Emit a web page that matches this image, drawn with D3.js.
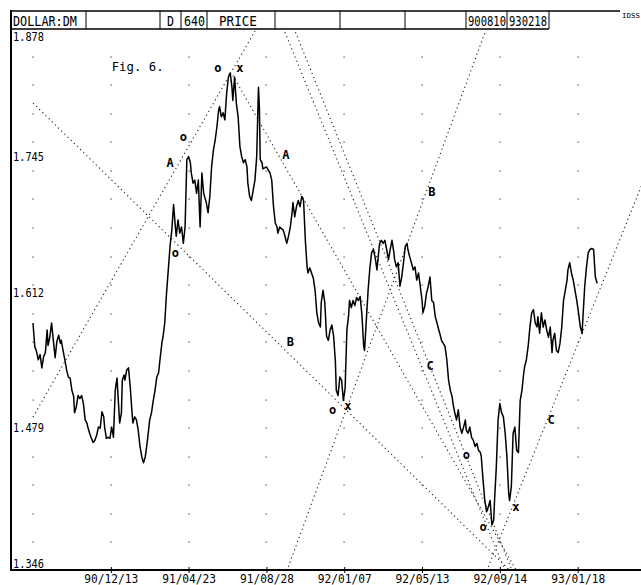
<!DOCTYPE html>
<html><head><meta charset="utf-8">
<script src="https://cdn.jsdelivr.net/npm/d3@7/dist/d3.min.js"></script>
<style>
html,body{margin:0;padding:0;background:#fff;}
svg{display:block;}
text{font-family:"DejaVu Sans Mono","Liberation Mono",monospace;fill:#000;}
</style></head>
<body>
<svg id="chart" width="641" height="585"></svg>
<script>
// ---- data ----
const barIndex = [0,2,4,6,8,10,12,14,16,17,19,21,23,25,27,29,31,32,34,36,38,40,42,44,46,47,49,51,53,55,57,59,61,62,64,66,68,70,72,74,76,78,80,81,83,85,87,89,91,93,95,96,98,100,101,103,104,106,108,110,112,113,115,117,119,121,123,125,127,129,132,134,136,138,140,142,144,146,147,149,151,153,155,157,159,161,162,164,166,168,170,172,174,176,178,179,181,183,185,187,189,191,193,194,196,198,200,202,204,206,208,210,211,213,215,217,219,221,223,225,226,228,230,232,234,236,238,240,242,243,245,247,249,251,253,255,256,257,259,260,264,268,270,272,274,276,277,279,283,285,287,289,291,293,294,296,298,300,302,304,306,308,310,311,313,315,317,319,321,323,325,326,328,330,332,334,336,338,340,342,343,345,347,349,351,353,355,357,358,360,362,364,366,368,370,372,374,375,377,379,381,383,385,387,389,391,392,394,396,398,400,402,404,406,408,409,411,413,415,417,419,421,423,424,426,428,430,432,434,436,438,440,441,443,445,447,449,451,453,455,457,458,460,462,464,466,468,470,472,474,475,477,479,481,483,485,487,489,490,492,494,496,498,500,502,504,506,507,509,511,513,515,517,519,521,522,524,526,528,530,532,534,536,538,539,541,543,545,547,549,551,553,555,556,558,560,562,564,566,568,570,571,573,575,577,579,581,583,585,587,588,590,592,594,596,598,600,602,604,605,607,609,611,613,615,617,619,621,622,624,626,628,630,632,634,636,638];
const price = [1.589,1.566,1.561,1.553,1.558,1.545,1.556,1.560,1.582,1.567,1.575,1.589,1.572,1.555,1.571,1.577,1.569,1.572,1.562,1.553,1.543,1.536,1.535,1.523,1.517,1.501,1.507,1.518,1.515,1.518,1.510,1.494,1.491,1.487,1.481,1.476,1.472,1.474,1.479,1.487,1.486,1.502,1.497,1.487,1.476,1.477,1.476,1.487,1.477,1.523,1.535,1.520,1.491,1.501,1.533,1.538,1.533,1.543,1.545,1.526,1.501,1.491,1.497,1.494,1.484,1.468,1.458,1.452,1.458,1.471,1.494,1.501,1.513,1.523,1.536,1.540,1.556,1.571,1.575,1.589,1.618,1.641,1.664,1.680,1.705,1.683,1.674,1.690,1.677,1.683,1.667,1.683,1.749,1.752,1.746,1.736,1.726,1.729,1.716,1.729,1.683,1.736,1.716,1.713,1.707,1.697,1.713,1.742,1.758,1.768,1.781,1.798,1.801,1.791,1.795,1.788,1.814,1.830,1.834,1.820,1.807,1.830,1.804,1.791,1.762,1.752,1.746,1.749,1.742,1.726,1.713,1.709,1.719,1.729,1.752,1.820,1.801,1.749,1.746,1.740,1.742,1.736,1.729,1.703,1.687,1.683,1.677,1.683,1.680,1.674,1.667,1.674,1.683,1.697,1.707,1.693,1.703,1.709,1.703,1.713,1.709,1.670,1.644,1.638,1.643,1.638,1.633,1.621,1.599,1.589,1.585,1.609,1.621,1.609,1.576,1.572,1.582,1.587,1.576,1.551,1.523,1.518,1.536,1.533,1.513,1.525,1.582,1.597,1.611,1.604,1.611,1.606,1.614,1.611,1.615,1.597,1.566,1.562,1.592,1.621,1.643,1.658,1.661,1.653,1.641,1.659,1.667,1.670,1.667,1.670,1.661,1.651,1.661,1.670,1.659,1.651,1.644,1.648,1.625,1.634,1.648,1.664,1.667,1.661,1.654,1.648,1.641,1.644,1.631,1.638,1.625,1.611,1.599,1.605,1.618,1.625,1.634,1.611,1.609,1.595,1.589,1.585,1.579,1.572,1.569,1.566,1.553,1.533,1.523,1.517,1.510,1.501,1.494,1.504,1.487,1.481,1.487,1.494,1.484,1.481,1.487,1.477,1.474,1.468,1.471,1.464,1.462,1.458,1.435,1.415,1.404,1.409,1.415,1.391,1.396,1.415,1.448,1.494,1.510,1.501,1.497,1.481,1.458,1.422,1.415,1.429,1.481,1.487,1.464,1.462,1.513,1.523,1.540,1.546,1.553,1.566,1.585,1.599,1.602,1.589,1.585,1.595,1.579,1.599,1.585,1.592,1.582,1.575,1.585,1.560,1.572,1.579,1.562,1.560,1.569,1.585,1.611,1.621,1.631,1.641,1.648,1.638,1.631,1.621,1.611,1.599,1.585,1.579,1.595,1.625,1.644,1.658,1.661,1.662,1.661,1.634,1.628];

const yTickValues = [1.878, 1.745, 1.612, 1.479, 1.346];
const xTickBars   = [88, 176, 264, 352, 440, 528, 616];
const xTickLabels = ["90/12/13","91/04/23","91/08/28","92/01/07","92/05/13","92/09/14","93/01/18"];
const headerCells = ["DOLLAR:DM","","D","640","PRICE","","","","900810","930218"];

// trend lines: [bar1, price1, bar2, price2]
const trendLines = [
  [0, 1.8045, 540, 1.346],
  [0, 1.4969, 253, 1.878],
  [226, 1.8315, 547, 1.346],
  [283, 1.878, 534, 1.346],
  [295, 1.878, 542, 1.346],
  [287, 1.346, 513, 1.878],
  [513, 1.346, 688, 1.723]
];
// point labels: text, bar, price
const markText  = ["o","x","o","A","o","A","B","B","o","x","C","o","o","x","C"];
const markBar   = [209,234,170,155,161,286,451,291,339,356,449,490,509,546,586];
const markPrice = [1.839,1.839,1.771,1.746,1.658,1.754,1.717,1.570,1.504,1.508,1.547,1.460,1.389,1.409,1.494];

// ---- drawing ----
const svg = d3.select("#chart");
const W = 641, H = 585;
const left = 11, plotTop = 28, plotBottom = 571;
const x = d3.scaleLinear().domain([0, 639]).range([33, 598]);
const y = d3.scaleLinear().domain([1.346, 1.878]).range([plotBottom, plotTop]);

// squeeze a text horizontally to a target width (keeps real text)
function fit(sel, w) {
  sel.each(function () {
    const n = this.getComputedTextLength();
    if (!n) return;
    const s = w / n;
    const x0 = +this.getAttribute("x") || 0, y0 = +this.getAttribute("y") || 0;
    this.setAttribute("x", 0); this.setAttribute("y", 0);
    this.setAttribute("transform", `translate(${x0},${y0}) scale(${s},1)`);
  });
}

svg.append("rect").attr("width", W).attr("height", H).attr("fill", "#fff");

svg.append("clipPath").attr("id","plotclip").append("rect")
  .attr("x", left+1).attr("y", 30).attr("width", W - left).attr("height", 540);

// dot grid
const gridRows = d3.range(1, 19).map(k => 1.346 + 0.028 * k);
const gridCols = d3.range(0, 8).map(k => k * 88);
const gdots = [];
gridRows.forEach(r => gridCols.forEach(c => gdots.push([c, r])));
svg.append("g").selectAll("rect").data(gdots).join("rect")
  .attr("x", d => Math.round(x(d[0])) - 0.5)
  .attr("y", d => Math.round(y(d[1])) - 0.5)
  .attr("width", 1.2).attr("height", 1.2).attr("fill", "#444");

// trend lines
const tl = svg.append("g").attr("clip-path", "url(#plotclip)");
tl.selectAll("line").data(trendLines).join("line")
  .attr("x1", d => x(d[0])).attr("y1", d => y(d[1]))
  .attr("x2", d => x(d[2])).attr("y2", d => y(d[3]))
  .attr("stroke", "#222").attr("stroke-width", 1.1)
  .attr("stroke-dasharray", "1.2,3.2");

// price line
const pts = barIndex.map((b, i) => [b, price[i]]);
svg.append("path").datum(pts)
  .attr("d", d3.line().x(d => x(d[0])).y(d => y(d[1])))
  .attr("fill", "none").attr("stroke", "#000").attr("stroke-width", 1.5)
  .attr("stroke-linejoin", "round");

// marks
svg.append("g").selectAll("text").data(markText).join("text")
  .attr("x", (d, i) => x(markBar[i])).attr("y", (d, i) => y(markPrice[i]) + 4)
  .attr("text-anchor", "middle")
  .attr("font-size", 12).attr("font-weight", "bold")
  .text(d => d);

// Fig label
svg.append("text").attr("x", x(89)).attr("y", y(1.840) + 4)
  .attr("font-size", 12).text("Fig. 6.").call(fit, 52);

// frame / axes
svg.append("line").attr("x1", left).attr("x2", left).attr("y1", 10).attr("y2", 571)
  .attr("stroke", "#000").attr("stroke-width", 2);
const xAxis = d3.axisBottom(x).tickValues(xTickBars).tickFormat((d, i) => xTickLabels[i])
  .tickSize(4).tickSizeOuter(0);
const gx = svg.append("g").attr("transform", `translate(0,${570})`).call(xAxis);
gx.select(".domain").remove();
gx.selectAll(".tick line").attr("y1", -3).attr("y2", 3).attr("stroke", "#000");
gx.selectAll(".tick text").attr("y", 13).attr("dy", null)
  .attr("font-size", 13).attr("font-family", "'DejaVu Sans Mono',monospace")
  .call(fit, 54);
svg.append("line").attr("x1", left).attr("x2", W).attr("y1", 570).attr("y2", 570)
  .attr("stroke", "#000").attr("stroke-width", 2);

// y labels
svg.append("g").selectAll("text").data(yTickValues).join("text")
  .attr("x", 13)
  .attr("y", d => d === d3.max(yTickValues) ? y(d) + 13 : y(d) - 3)
  .attr("font-size", 12)
  .text(d => d.toFixed(3))
  .call(fit, 31);

// header
const hdr = svg.append("g");
hdr.append("line").attr("x1", left).attr("x2", 620).attr("y1", 11).attr("y2", 11)
  .attr("stroke", "#000").attr("stroke-width", 1.5);
hdr.append("line").attr("x1", left).attr("x2", 549).attr("y1", 29).attr("y2", 29)
  .attr("stroke", "#000").attr("stroke-width", 1.5);
const seps = [86, 160, 181, 207, 275, 340, 405, 466, 507, 549];
hdr.selectAll("line.sep").data(seps).join("line").attr("class", "sep")
  .attr("x1", d => d).attr("x2", d => d).attr("y1", 11).attr("y2", 29)
  .attr("stroke", "#000").attr("stroke-width", 1);
const cellStarts = [12, 86, 160, 181, 207, 275, 340, 405, 466, 507];
const cellPad    = [1, 2, 7, 3, 12, 2, 2, 2, 2, 2];
const cellWidth  = [64, 0, 7, 21, 38, 0, 0, 0, 38, 38];
hdr.selectAll("text.h").data(headerCells.map((t, i) => ({t, i})).filter(d => d.t)).join("text")
  .attr("class", "h")
  .attr("x", d => cellStarts[d.i] + cellPad[d.i])
  .attr("y", 26)
  .attr("font-size", 14)
  .text(d => d.t)
  .each(function (d) { d3.select(this).call(fit, cellWidth[d.i]); });
hdr.append("text").attr("x", 622).attr("y", 18).attr("font-size", 7)
  .text("IDSS").call(fit, 18);
</script>
</body></html>
